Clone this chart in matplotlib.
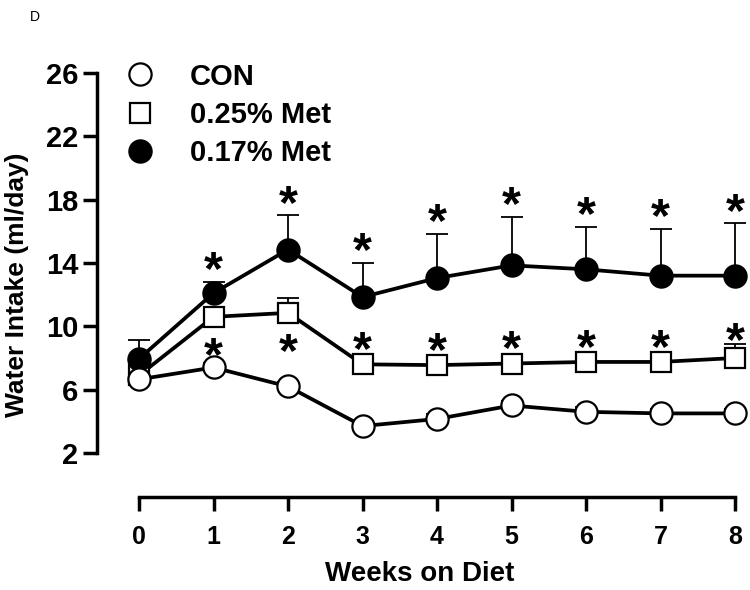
import matplotlib
matplotlib.use("Agg")
import matplotlib.pyplot as plt
import numpy as np
from matplotlib.lines import Line2D

plt.rcParams['font.family'] = ['Liberation Sans', 'DejaVu Sans']

weeks = [0, 1, 2, 3, 4, 5, 6, 7, 8]
con_mean = [6.65, 7.4, 6.2, 3.7, 4.15, 5.0, 4.6, 4.5, 4.5]
con_sem = [0.3, 0.3, 0.3, 0.3, 0.3, 0.3, 0.3, 0.3, 0.3]
met025_mean = [6.9, 10.6, 10.85, 7.6, 7.55, 7.65, 7.75, 7.75, 8.0]
met025_sem = [0.3, 0.6, 0.95, 0.3, 0.3, 0.3, 0.3, 0.3, 0.9]
met017_mean = [7.95, 12.1, 14.85, 11.85, 13.05, 13.85, 13.6, 13.2, 13.2]
met017_sem = [1.2, 0.7, 2.15, 2.15, 2.8, 3.05, 2.7, 2.95, 3.3]
star017 = [0, 1, 1, 1, 1, 1, 1, 1, 1]
star025 = [0, 0, 0, 1, 1, 1, 1, 1, 1]
star_between = [0, 1, 1, 0, 0, 0, 0, 0, 0]
labels = ["CON", "0.25% Met", "0.17% Met"]
yticks = [2, 6, 10, 14, 18, 22, 26]

DPI = 100
fig = plt.figure(figsize=(7.5, 5.9), dpi=DPI)
ax = fig.add_axes([97/750, 93/590, 645.5/750, 424/590])
ax.set_xlim(-0.564, 8.1)
ax.set_ylim(-0.78, 26)

lw = 2.7
def series(mean, sem, marker, face, ms, z):
    ax.errorbar(weeks, mean, yerr=[np.zeros(len(sem)), sem], fmt='none',
                ecolor='black', elinewidth=1.3, capsize=8, capthick=1.3,
                zorder=z - 0.5, clip_on=False)
    ax.plot(weeks, mean, color='black', lw=lw, marker=marker, ms=ms,
            mfc=face, mec='black', mew=1.6, zorder=z, clip_on=False)

series(met025_mean, met025_sem, 's', 'white', 15, 3)
series(met017_mean, met017_sem, 'o', 'black', 16, 4)
series(con_mean, con_sem, 'o', 'white', 16, 5)

# pixel scale of data units along y
px_per_unit = 424 / (26 + 0.78)
STAR_FS = 35
star_center_em = 0.46

def star(x, y, center_px):
    # place asterisk so its visual centre is center_px pixels above (x, y)
    off_px = center_px - star_center_em * STAR_FS * DPI / 72
    ax.annotate('*', (x, y), xytext=(0, off_px * 72 / DPI),
                textcoords='offset points', ha='center', va='baseline',
                fontsize=STAR_FS, fontweight='bold', annotation_clip=False,
                zorder=6)

for w, m, s, f in zip(weeks, met017_mean, met017_sem, star017):
    if f:
        star(w, m, s * px_per_unit + 20)
for w, m, s, f in zip(weeks, met025_mean, met025_sem, star025):
    if f:
        star(w, m, max(s * px_per_unit, 11) + 11.5)
for w, m, f in zip(weeks, met025_mean, star_between):
    if f:
        star(w, m, -31)

for sp in ['top', 'right']:
    ax.spines[sp].set_visible(False)
ax.spines['left'].set_bounds(2, 26)
ax.spines['bottom'].set_bounds(0, 8)
ax.spines['left'].set_linewidth(2.5)
ax.spines['bottom'].set_linewidth(2.5)
ax.set_yticks(yticks)
ax.set_xticks(weeks)
ax.tick_params(axis='both', direction='out', length=10, width=2.5)
ax.tick_params(axis='y', labelsize=21, pad=3.6)
ax.tick_params(axis='x', labelsize=18, pad=10)
for t in ax.get_xticklabels() + ax.get_yticklabels():
    t.set_fontweight('bold')
ax.set_xlabel('Weeks on Diet', fontsize=20, fontweight='bold', labelpad=9)
ax.set_ylabel('Water Intake (ml/day)', fontsize=19, fontweight='bold', labelpad=12)

handles = [
    Line2D([], [], ls='none', marker='o', ms=16, mfc='white', mec='black', mew=1.6),
    Line2D([], [], ls='none', marker='s', ms=15, mfc='white', mec='black', mew=1.6),
    Line2D([], [], ls='none', marker='o', ms=16, mfc='black', mec='black', mew=1.6),
]
leg = ax.legend(handles, labels, loc='upper left', bbox_to_anchor=(0.026, 1.052),
                frameon=False, prop={'size': 21, 'weight': 'bold'},
                handlelength=1.0, handletextpad=1.2, labelspacing=0.35,
                borderaxespad=0, borderpad=0.4)

fig.text(30/750, 1 - 17/590, 'D', fontsize=10, ha='left', va='center')

fig.savefig('out.png', dpi=DPI)
